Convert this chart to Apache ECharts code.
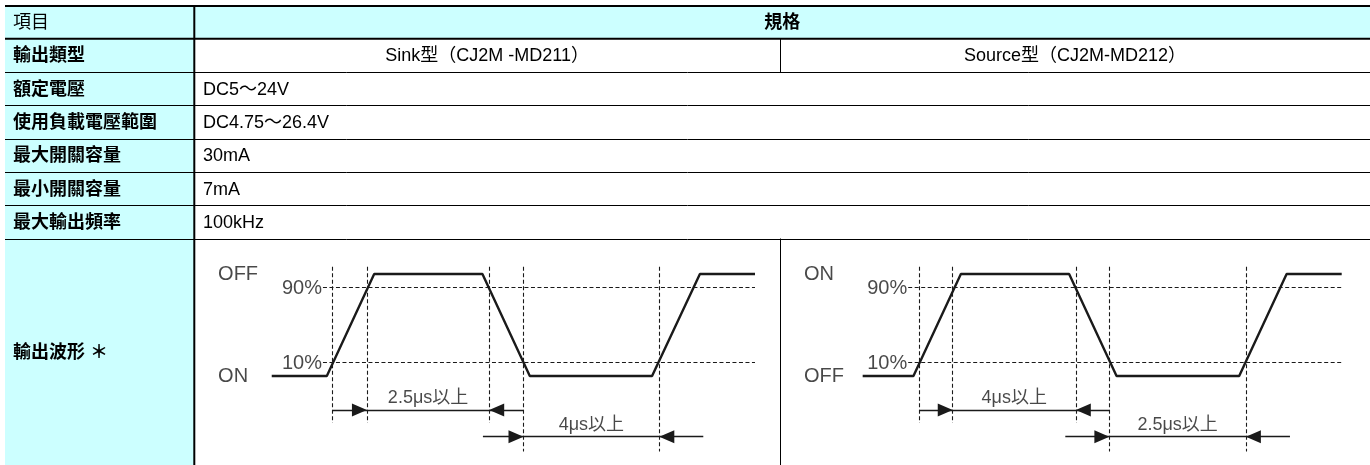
<!DOCTYPE html>
<html><head><meta charset="utf-8">
<script src="https://cdn.jsdelivr.net/npm/echarts@6/dist/echarts.min.js"></script>
<style>html,body{margin:0;padding:0;background:#fff}#c{width:1370px;height:465px}</style>
</head><body><div id="c"></div>
<script>
// ---------- table texts ----------
const headerLabels = ['項目', '規格'];
const rowLabels = ['輸出類型', '額定電壓', '使用負載電壓範圍', '最大開關容量', '最小開關容量', '最大輸出頻率', '輸出波形 ＊'];
const rowValues = ['', 'DC5～24V', 'DC4.75～26.4V', '30mA', '7mA', '100kHz', ''];
const typeLabels = ['Sink型（CJ2M -MD211）', 'Source型（CJ2M-MD212）'];

// ---------- waveform data (time units, level 0 = low, 100 = high) ----------
const sinkTime = [0, 11.4, 21.2, 43.6, 53.4, 78.7, 88.6, 100];
const sinkLevel = [0, 0, 100, 100, 0, 0, 100, 100];
const sourceTime = [0, 10.6, 20.5, 43.1, 53.0, 78.6, 88.5, 100];
const sourceLevel = [0, 0, 100, 100, 0, 0, 100, 100];
const sinkStateNames = ['OFF', 'ON'];      // high, low
const sourceStateNames = ['ON', 'OFF'];    // high, low
const stateLabelTime = [-11.1, -12.25];    // sink, source
const thresholdLevels = [87, 13];
const thresholdLabels = ['90%', '10%'];
const thresholdStart = [10.6, 9.5];        // sink, source
const thresholdEnd = 100;
const sinkGuides = [12.6, 19.7, 45.0, 52.1, 80.2];
const sinkGuideEnds = [-46, -46, -46, -74, -74];
const sourceGuides = [11.8, 18.8, 44.5, 51.5, 80.0];
const sourceGuideEnds = [-46, -46, -46, -74, -74];
const guideTop = 107;
// dimension lines: from, to, level, right-pointing arrow tip, left-pointing arrow tip
const sinkDims = [[12.6, 52.1, -33.3, 19.7, 45.0], [43.7, 89.3, -59.5, 52.1, 80.2]];
const sourceDims = [[11.8, 51.5, -33.3, 18.8, 44.5], [42.3, 89.2, -59.5, 51.5, 80.0]];
const sinkDimLabels = ['2.5μs以上', '4μs以上'];
const sourceDimLabels = ['4μs以上', '2.5μs以上'];

// ---------- styles ----------
const CYAN = '#ccffff';
const INK = '#1a1a1a';
const TFONT = '"Liberation Sans", Arial, "Noto Sans CJK TC", sans-serif';
const WFONT = '"Liberation Sans", Arial, "Noto Sans CJK JP", sans-serif';

// ---------- table layout ----------
const L = {left: 5, right: 1370, top: 6, headBottom: 38.7, rowH: 33.3, col1: 194.3, mid: 780, bottom: 465};
const px = v => Math.round(v) + 0.5;
const g = [];
g.push({type: 'rect', z: 0, shape: {x: L.left, y: L.top, width: L.right - L.left, height: L.headBottom - L.top}, style: {fill: CYAN}});
g.push({type: 'rect', z: 0, shape: {x: L.left, y: L.headBottom, width: L.col1 - L.left, height: L.bottom - L.headBottom}, style: {fill: CYAN}});
g.push({type: 'line', z: 1, shape: {x1: L.left, y1: L.top, x2: L.right, y2: L.top}, style: {stroke: '#000', lineWidth: 2}});
g.push({type: 'line', z: 1, shape: {x1: L.left, y1: L.headBottom, x2: L.right, y2: L.headBottom}, style: {stroke: '#000', lineWidth: 2}});
for (let i = 1; i < rowLabels.length; i++) {
  const y = px(L.headBottom + i * L.rowH);
  g.push({type: 'line', z: 1, shape: {x1: L.left, y1: y, x2: L.right, y2: y}, style: {stroke: '#000', lineWidth: 1}});
}
g.push({type: 'line', z: 1, shape: {x1: L.col1, y1: L.top, x2: L.col1, y2: L.bottom}, style: {stroke: '#000', lineWidth: 2}});
g.push({type: 'line', z: 1, shape: {x1: px(L.mid), y1: L.headBottom, x2: px(L.mid), y2: L.headBottom + L.rowH}, style: {stroke: '#000', lineWidth: 1}});
g.push({type: 'line', z: 1, shape: {x1: px(L.mid), y1: L.headBottom + 6 * L.rowH, x2: px(L.mid), y2: L.bottom}, style: {stroke: '#000', lineWidth: 1}});
const headMid = (L.top + L.headBottom) / 2 + 1;
g.push({type: 'text', z: 2, x: 13, y: headMid, style: {text: headerLabels[0], fontSize: 18, fontFamily: TFONT, fill: '#000', textAlign: 'left', textVerticalAlign: 'middle'}});
g.push({type: 'text', z: 2, x: (L.col1 + L.right) / 2, y: headMid, style: {text: headerLabels[1], fontSize: 18, fontWeight: 'bold', fontFamily: TFONT, fill: '#000', textAlign: 'center', textVerticalAlign: 'middle'}});
rowLabels.forEach((lab, i) => {
  const top = L.headBottom + i * L.rowH;
  const bot = i === rowLabels.length - 1 ? L.bottom : top + L.rowH;
  const cy = (top + bot) / 2 + 1;
  g.push({type: 'text', z: 2, x: 13, y: cy, style: {text: lab, fontSize: 18, fontWeight: 'bold', fontFamily: TFONT, fill: '#000', textAlign: 'left', textVerticalAlign: 'middle'}});
  if (rowValues[i]) {
    g.push({type: 'text', z: 2, x: 203, y: cy, style: {text: rowValues[i], fontSize: 18, fontFamily: TFONT, fill: '#000', textAlign: 'left', textVerticalAlign: 'middle'}});
  }
  if (i === 0) {
    g.push({type: 'text', z: 2, x: (L.col1 + L.mid) / 2, y: cy, style: {text: typeLabels[0], fontSize: 18, fontFamily: TFONT, fill: '#000', textAlign: 'center', textVerticalAlign: 'middle'}});
    g.push({type: 'text', z: 2, x: (L.mid + L.right) / 2, y: cy, style: {text: typeLabels[1], fontSize: 18, fontFamily: TFONT, fill: '#000', textAlign: 'center', textVerticalAlign: 'middle'}});
  }
});

// ---------- waveform builders ----------
const RIGHT_ARROW = 'path://M0,0 L15,6.5 L0,13 Z';
const LEFT_ARROW = 'path://M15,0 L0,6.5 L15,13 Z';
function waveSeries(idx, times, levels, stateNames, guides, guideEnds, dims, dimLabels) {
  const dashed = {color: INK, width: 1.1, type: [4, 2.5], opacity: 1};
  const solid = {color: INK, width: 1.4, type: 'solid', opacity: 1};
  const lineData = [];
  thresholdLevels.forEach(lv => lineData.push({coords: [[thresholdStart[idx], lv], [thresholdEnd, lv]], lineStyle: dashed}));
  guides.forEach((t, k) => lineData.push({coords: [[t, guideTop], [t, guideEnds[k]]], lineStyle: dashed}));
  dims.forEach(d => lineData.push({coords: [[d[0], d[2]], [d[1], d[2]]], lineStyle: solid}));
  const lab = (size, align, va) => ({align: align, verticalAlign: va, fontSize: size});
  const labels = [];
  labels.push({value: [stateLabelTime[idx], 100], name: stateNames[0], label: lab(20, 'left', 'middle')});
  labels.push({value: [stateLabelTime[idx], 0], name: stateNames[1], label: lab(20, 'left', 'middle')});
  thresholdLevels.forEach((lv, k) => labels.push({value: [thresholdStart[idx] - 0.2, lv - 1.2], name: thresholdLabels[k], label: lab(20, 'right', 'middle')}));
  dims.forEach((d, k) => labels.push({value: [(d[3] + d[4]) / 2, d[2] + 3], name: dimLabels[k], label: lab(18, 'center', 'bottom')}));
  const arrows = [];
  dims.forEach(d => {
    arrows.push({value: [d[3], d[2]], symbol: RIGHT_ARROW, symbolOffset: [-7.5, 0]});
    arrows.push({value: [d[4], d[2]], symbol: LEFT_ARROW, symbolOffset: [7.5, 0]});
  });
  return [
    {type: 'lines', coordinateSystem: 'cartesian2d', xAxisIndex: idx, yAxisIndex: idx, silent: true, z: 3, lineStyle: {opacity: 1}, data: lineData},
    {type: 'line', xAxisIndex: idx, yAxisIndex: idx, data: times.map((t, k) => [t, levels[k]]), showSymbol: false, symbol: 'none', silent: true, z: 4,
      lineStyle: {color: INK, width: 2.4}},
    {type: 'scatter', xAxisIndex: idx, yAxisIndex: idx, data: arrows, symbolSize: [15, 13], itemStyle: {color: INK, opacity: 1}, silent: true, z: 5},
    {type: 'scatter', xAxisIndex: idx, yAxisIndex: idx, data: labels, symbolSize: 1, itemStyle: {color: 'rgba(0,0,0,0)'}, silent: true, z: 6,
      label: {show: true, position: 'inside', formatter: p => p.name, color: INK, textBorderWidth: 0, fontFamily: WFONT}}
  ];
}

const chart = echarts.init(document.getElementById('c'));
chart.setOption({
  animation: false,
  backgroundColor: '#fff',
  graphic: {elements: g},
  grid: [
    {left: 208.9, top: 263.8, width: 546.1, height: 193.8},
    {left: 800.4, top: 263.8, width: 541.3, height: 193.8}
  ],
  xAxis: [0, 1].map(i => ({type: 'value', gridIndex: i, min: -13, max: 100, show: false})),
  yAxis: [0, 1].map(i => ({type: 'value', gridIndex: i, min: -80, max: 110, show: false})),
  series: [
    ...waveSeries(0, sinkTime, sinkLevel, sinkStateNames, sinkGuides, sinkGuideEnds, sinkDims, sinkDimLabels),
    ...waveSeries(1, sourceTime, sourceLevel, sourceStateNames, sourceGuides, sourceGuideEnds, sourceDims, sourceDimLabels)
  ]
});
</script>
</body></html>
